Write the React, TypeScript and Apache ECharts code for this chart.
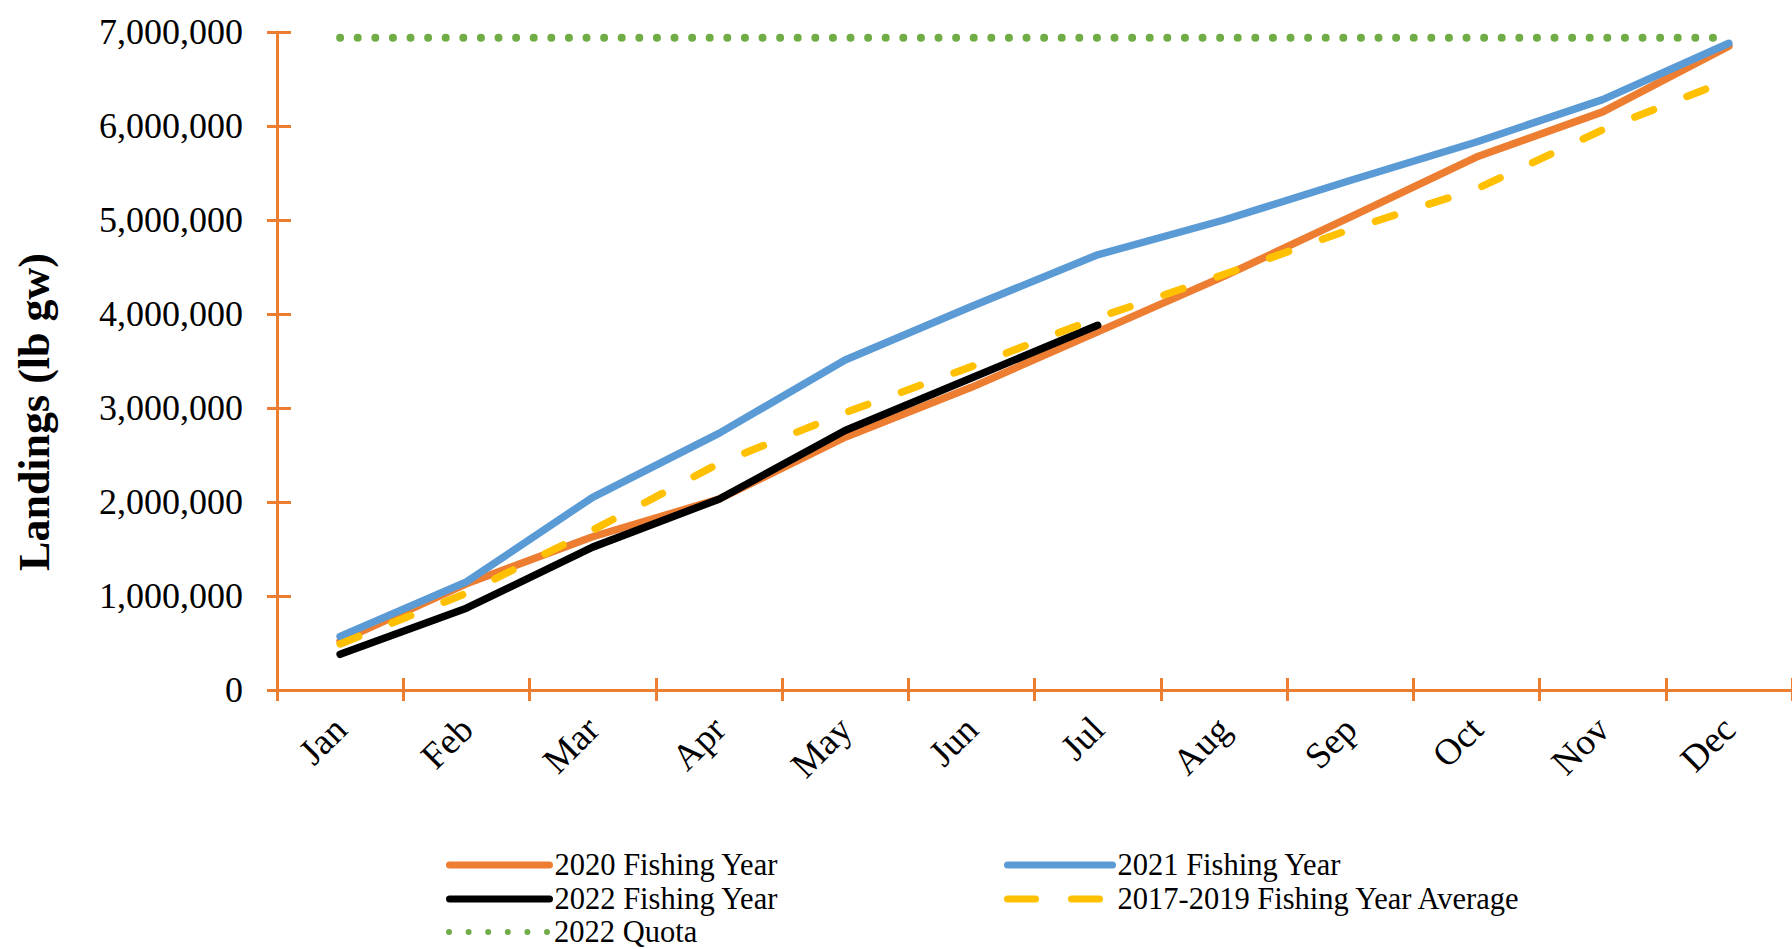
import React, { useEffect, useRef } from 'react';
import * as echarts from 'echarts';

const months = ['Jan', 'Feb', 'Mar', 'Apr', 'May', 'Jun', 'Jul', 'Aug', 'Sep', 'Oct', 'Nov', 'Dec'];
const fy2020 = [520000, 1130000, 1630000, 2030000, 2690000, 3220000, 3810000, 4400000, 5030000, 5670000, 6150000, 6850000];
const fy2021 = [570000, 1150000, 2050000, 2730000, 3510000, 4080000, 4630000, 5000000, 5420000, 5830000, 6280000, 6880000];
const fy2022 = [380000, 870000, 1520000, 2030000, 2760000, 3320000, 3880000];
const avg1719 = [490000, 1030000, 1700000, 2410000, 2950000, 3440000, 3960000, 4420000, 4900000, 5330000, 5960000, 6490000];
const quota2022 = [6940000, 6940000, 6940000, 6940000, 6940000, 6940000, 6940000, 6940000, 6940000, 6940000, 6940000, 6940000];

const S2020 = '2020 Fishing Year';
const S2021 = '2021 Fishing Year';
const S2022 = '2022 Fishing Year';
const SAVG = '2017-2019 Fishing Year Average';
const SQ = '2022 Quota';

const FONT = '"Liberation Serif", "Times New Roman", serif';
const AXIS_COLOR = '#ED7D31';

export default function App() {
  const ref = useRef<HTMLDivElement>(null);
  useEffect(() => {
    if (!ref.current) return;
    const chart = echarts.init(ref.current, undefined, { renderer: 'svg' });
    const legendText = { fontFamily: FONT, fontSize: 30.5, color: '#000', lineHeight: 34 };
    const mkLegend = (left: number, top: number, item: any, width: number) => ({
      orient: 'horizontal' as const,
      left,
      top,
      padding: 0,
      itemWidth: width,
      itemHeight: 14,
      itemGap: 0,
      textStyle: legendText,
      lineStyle: { width: 7 },
      itemStyle: { opacity: 0 },
      data: [item],
    });
    chart.setOption({
      animation: false,
      backgroundColor: '#fff',
      grid: { left: 277, top: 32, width: 1524, height: 658 },
      legend: [
        mkLegend(446, 848, { name: S2020 }, 100),
        mkLegend(1004, 848, { name: S2021 }, 105),
        mkLegend(446, 882, { name: S2022 }, 100),
        mkLegend(1004, 882, { name: SAVG, lineStyle: { type: [28, 36], cap: 'round', width: 7 } }, 105),
        mkLegend(446, 915, { name: SQ, lineStyle: { type: [0, 19.6], cap: 'round', width: 6 } }, 100),
      ],
      xAxis: [
        {
          type: 'category',
          data: months,
          position: 'bottom',
          boundaryGap: true,
          axisLine: { lineStyle: { color: AXIS_COLOR, width: 3 } },
          axisTick: { show: true, length: 11, lineStyle: { color: AXIS_COLOR, width: 3 } },
          axisLabel: {
            interval: 0,
            rotate: 45,
            margin: 33,
            fontFamily: FONT,
            fontSize: 37,
            color: '#000',
          },
          splitLine: { show: false },
        },
        {
          type: 'category',
          data: months,
          position: 'bottom',
          boundaryGap: true,
          axisLine: { show: false },
          axisTick: { show: true, inside: true, length: 12, lineStyle: { color: AXIS_COLOR, width: 3 } },
          axisLabel: { show: false },
          splitLine: { show: false },
        },
      ],
      yAxis: [
        {
          type: 'value',
          position: 'left',
          min: 0,
          max: 7000000,
          interval: 1000000,
          axisLine: { show: true, lineStyle: { color: AXIS_COLOR, width: 3 } },
          axisTick: { show: true, length: 10, lineStyle: { color: AXIS_COLOR, width: 3 } },
          axisLabel: {
            margin: 34,
            fontFamily: FONT,
            fontSize: 36,
            color: '#000',
            formatter: (v: number) => v.toLocaleString('en-US'),
          },
          splitLine: { show: false },
        },
        {
          type: 'value',
          position: 'left',
          min: 0,
          max: 7000000,
          interval: 1000000,
          axisLine: { show: false },
          axisTick: { show: true, inside: true, length: 14, lineStyle: { color: AXIS_COLOR, width: 3 } },
          axisLabel: { show: false },
          splitLine: { show: false },
        },
      ],
      graphic: [
        {
          type: 'text',
          x: 34,
          y: 412,
          rotation: Math.PI / 2,
          style: {
            text: 'Landings (lb gw)',
            fontFamily: FONT,
            fontSize: 44,
            fontWeight: 'bold',
            fill: '#000',
            textAlign: 'center',
            textVerticalAlign: 'middle',
          },
        },
      ],
      series: [
        {
          name: S2020,
          type: 'line',
          data: fy2020,
          symbol: 'none',
          lineStyle: { color: '#ED7D31', width: 7.5, cap: 'round', join: 'round' },
          itemStyle: { color: '#ED7D31' },
        },
        {
          name: S2021,
          type: 'line',
          data: fy2021,
          symbol: 'none',
          lineStyle: { color: '#5B9BD5', width: 7.5, cap: 'round', join: 'round' },
          itemStyle: { color: '#5B9BD5' },
        },
        {
          name: S2022,
          type: 'line',
          data: fy2022,
          symbol: 'none',
          lineStyle: { color: '#000000', width: 7.5, cap: 'round', join: 'round' },
          itemStyle: { color: '#000000' },
        },
        {
          name: SAVG,
          type: 'line',
          data: avg1719,
          symbol: 'none',
          lineStyle: { color: '#FFC000', width: 7.5, type: [20, 36], cap: 'round', join: 'round' },
          itemStyle: { color: '#FFC000' },
        },
        {
          name: SQ,
          type: 'line',
          data: quota2022,
          symbol: 'none',
          lineStyle: { color: '#70AD47', width: 8, type: [0, 17.6], cap: 'round' },
          itemStyle: { color: '#70AD47' },
        },
      ],
    });
    return () => chart.dispose();
  }, []);
  return (
    <div
      ref={ref}
      style={{ position: 'fixed', left: 0, top: 0, width: 1792, height: 949, background: '#fff' }}
    />
  );
}
